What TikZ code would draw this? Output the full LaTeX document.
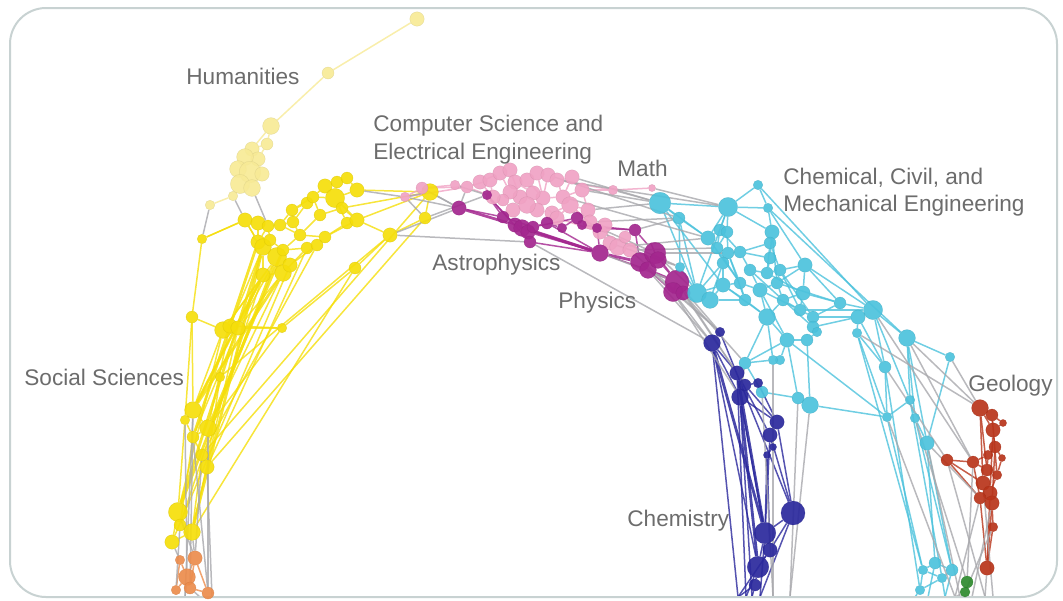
\documentclass[tikz,border=0pt]{standalone}
\usepackage{fontspec}
\setmainfont{Liberation Sans}
\usetikzlibrary{backgrounds}

\definecolor{humyellow}{RGB}{247,234,150}
\definecolor{socyellow}{RGB}{245,222,10}
\definecolor{socorange}{RGB}{236,140,76}
\definecolor{cspink}{RGB}{240,162,196}
\definecolor{astpurple}{RGB}{163,38,142}
\definecolor{engcyan}{RGB}{76,194,220}
\definecolor{chemblue}{RGB}{42,40,156}
\definecolor{geored}{RGB}{184,52,26}
\definecolor{geogreen}{RGB}{46,138,46}
\definecolor{linkgray}{RGB}{168,168,172}
\definecolor{labelgray}{RGB}{108,108,108}
\definecolor{framegray}{RGB}{200,210,210}

\tikzset{
  blob/.style={circle, inner sep=0pt, fill=#1, draw=#1!85!black, line width=0.2pt, fill opacity=0.92, draw opacity=0.5},
  link/.style={draw=#1, line width=0.75pt, opacity=0.8},
  fatlink/.style={draw=#1, line width=1.4pt, opacity=0.85},
  field/.style={font=\fontsize{11.3}{13.5}\selectfont, text=labelgray, inner sep=0pt, anchor=base west},
}

\begin{document}
\begin{tikzpicture}[x=0.5pt, y=-0.5pt]
  \useasboundingbox (0,0) rectangle (1063,600);
  \draw[framegray, line width=1pt, rounded corners=18pt] (10,8) rectangle (1057,597);

  %%%%% NODES %%%%%
  % humanities
  \foreach \n/\x/\y/\r in {1/417/19/6, 2/328/73/5, 3/271/126/7, 4/267/144/5, 5/252/149/6,
      6/258/159/6, 7/245/157/7, 8/238/169/7, 9/250/172/9, 10/262/174/6, 11/240/184/8,
      12/252/188/7, 13/233/196/4, 14/210/205/4}
    \node[blob=humyellow, minimum size=1.2*\r pt] (hu\n) at (\x,\y) {};

  % social sciences
  \foreach \n/\x/\y/\r in {1/202/239/4, 2/245/220/6, 3/258/223/6, 4/268/226/5, 5/280/225/5,
      6/292/210/5, 7/293/222/5, 8/307/203/5, 9/313/197/5, 10/325/186/6, 11/337/182/5,
      12/347/178/5, 13/335/198/8, 14/357/190/6, 15/258/242/6, 16/263/247/7, 17/277/257/8,
      18/283/250/5, 19/263/275/6, 20/283/273/7, 21/307/248/5, 22/317/245/5, 23/325/237/5,
      24/347/223/5, 25/357/220/6, 26/390/235/6, 27/355/268/5, 28/425/218/5, 29/430/192/7,
      30/192/317/5, 31/223/330/7, 32/230/326/6, 33/238/328/6, 34/282/328/4, 35/220/377/4,
      36/193/410/7, 37/185/420/4, 38/208/428/7, 39/193/437/5, 40/202/455/5, 41/207/467/6,
      42/178/512/8, 43/180/525/5, 44/192/532/7, 45/172/542/6, 46/270/240/5, 47/300/235/5,
      48/290/265/6, 49/320/215/5, 50/342/208/5}
    \node[blob=socyellow, minimum size=1.2*\r pt] (ss\n) at (\x,\y) {};
  \foreach \n/\x/\y/\r in {1/195/558/6, 2/180/560/4, 3/187/577/7, 4/190/588/5, 5/208/593/5, 6/176/590/4}
    \node[blob=socorange, minimum size=1.2*\r pt] (or\n) at (\x,\y) {};

  % computer science and electrical engineering
  \foreach \n/\x/\y/\r in {1/405/197/4, 2/422/188/5, 3/467/187/5, 4/480/182/6, 5/490/180/6,
      6/500/173/6, 7/510/170/6, 8/515/182/6, 9/527/180/6, 10/537/173/6, 11/548/175/6,
      12/557/180/6, 13/572/177/6, 14/582/190/6, 15/563/197/6, 16/543/198/6, 17/533/193/6,
      18/520/197/6, 19/510/192/6, 20/503/200/5, 21/493/197/6, 22/513/210/6, 23/537/210/6,
      24/552/213/6, 25/557/218/6, 26/588/210/6, 27/590/222/6, 28/600/232/6, 29/610/243/6,
      30/618/247/7, 31/630/250/6, 32/613/190/4, 33/652/188/3, 34/455/185/4, 35/527/205/7,
      36/570/205/7, 37/605/225/6, 38/625/237/5}
    \node[blob=cspink, minimum size=1.2*\r pt] (cs\n) at (\x,\y) {};

  % astrophysics and physics
  \foreach \n/\x/\y/\r in {1/459/208/6, 2/487/195/4, 3/503/217/5, 4/515/225/6, 5/522/228/7,
      6/528/232/6, 7/533/227/5, 8/530/242/5, 9/547/223/5, 10/577/218/5, 11/582/225/4,
      12/597/228/4, 13/600/253/7, 14/635/230/5, 15/640/262/8, 16/655/253/9, 17/648/270/7,
      18/658/260/7, 19/677/282/10, 20/673/292/8, 21/683/293/6, 22/562/228/4}
    \node[blob=astpurple, minimum size=1.2*\r pt] (ap\n) at (\x,\y) {};

  % chemical, civil and mechanical engineering
  \foreach \n/\x/\y/\r in {1/660/203/9, 2/728/207/8, 3/758/185/4, 4/768/208/4, 5/679/218/5,
      6/720/230/5, 7/727/232/5, 8/708/238/6, 9/772/232/6, 10/770/243/5, 11/717/248/5,
      12/728/253/5, 13/740/252/5, 14/723/263/5, 15/680/267/4, 16/805/265/6, 17/750/270/5,
      18/767/273/5, 19/780/270/5, 20/697/293/8, 21/723/285/6, 22/740/283/5, 23/760/290/6,
      24/777/283/5, 25/803/293/6, 26/783/300/5, 27/767/317/7, 28/800/310/5, 29/813/317/5,
      30/840/303/5, 31/873/310/8, 32/858/317/6, 33/813/327/5, 34/857/333/4, 35/907/338/7,
      36/787/340/6, 37/807/340/5, 38/817/332/4, 39/745/363/5, 40/780/360/4, 41/950/357/4,
      42/885/367/5, 43/810/405/7, 44/798/398/5, 45/762/392/5, 46/773/360/4, 47/887/417/4,
      48/910/400/4, 49/915/418/4, 50/927/443/6, 51/923/570/4, 52/935/563/5, 53/952/570/5,
      54/942/578/4, 55/920/590/4, 56/710/300/7, 57/745/300/5, 58/770/258/5}
    \node[blob=engcyan, minimum size=1.2*\r pt] (ce\n) at (\x,\y) {};

  % chemistry
  \foreach \n/\x/\y/\r in {1/720/332/4, 2/712/343/7, 3/737/373/6, 4/758/383/4, 5/740/397/7,
      6/745/385/5, 7/777/422/6, 8/770/435/6, 9/773/447/3, 10/767/455/3, 11/793/513/10,
      12/765/533/9, 13/770/550/6, 14/758/567/9, 15/755/585/5}
    \node[blob=chemblue, minimum size=1.2*\r pt] (ch\n) at (\x,\y) {};

  % geology
  \foreach \n/\x/\y/\r in {1/980/408/7, 2/992/415/5, 3/1003/423/3, 4/993/430/6, 5/995/447/5,
      6/1002/458/3, 7/973/462/5, 8/947/460/5, 9/987/470/5, 10/983/483/6, 11/990/493/6,
      12/980/498/5, 13/992/503/6, 14/993/527/4, 15/987/568/6, 16/997/475/4, 17/988/455/4}
    \node[blob=geored, minimum size=1.2*\r pt] (ge\n) at (\x,\y) {};
  \node[blob=geogreen, minimum size=6pt] (gr1) at (967,582) {};
  \node[blob=geogreen, minimum size=5pt] (gr2) at (965,592) {};

  % loose ends at the lower edge
  \foreach \n/\x in {1/185, 2/200, 3/212} \coordinate (orb\n) at (\x,597);
  \foreach \n/\x in {1/738, 2/746, 3/752, 4/760, 5/773, 6/790} \coordinate (chb\n) at (\x,597);
  \foreach \n/\x in {1/915, 2/928, 3/945} \coordinate (cyb\n) at (\x,597);
  \foreach \n/\x in {1/955, 2/972, 3/985, 4/960, 5/993} \coordinate (gb\n) at (\x,597);

  %%%%% LINKS %%%%%
  \begin{pgfonlayer}{background}
    \foreach \a/\b in {1/2, 2/3, 3/4, 4/5, 4/6, 5/7, 6/10, 5/6, 7/8, 7/9, 8/9, 9/10, 8/11,
        9/12, 11/12, 10/12, 11/13, 13/14, 9/11, 3/5}
      \draw[link=humyellow] (hu\a) -- (hu\b);

    \foreach \a/\b in {1/2, 2/3, 3/4, 4/5, 5/7, 7/6, 6/8, 8/9, 9/10, 10/11, 11/12, 12/14,
        10/13, 13/14, 9/13, 13/11, 6/9, 7/8, 5/6, 3/15, 15/16, 16/17, 17/18, 18/21, 21/22,
        22/23, 23/24, 24/25, 25/13, 24/13, 23/25, 16/46, 46/18, 4/46, 5/47, 47/23, 7/47,
        18/47, 17/20, 19/20, 19/16, 20/21, 17/48, 48/22, 48/20, 2/15, 15/4, 47/49, 49/50,
        50/13, 49/9, 50/25, 14/29, 25/29, 26/28, 28/29, 26/27, 27/34, 25/26, 50/29,
        17/31, 16/32, 19/33, 20/33, 17/33, 19/31, 32/34, 31/32, 32/33, 33/34,
        19/36, 20/38, 21/41, 22/40, 31/36, 32/38, 33/39, 31/42, 33/44, 19/43, 48/45,
        28/41, 29/40, 26/35, 35/41, 34/38, 27/44, 1/30, 30/36, 30/31, 30/37, 36/37, 36/38,
        37/39, 38/39, 39/40, 40/41, 38/41, 37/42, 39/43, 40/44, 42/43, 43/44, 42/45, 44/45,
        41/44, 1/2, 2/15}
      \draw[link=socyellow] (ss\a) -- (ss\b);
    \foreach \a/\b in {17/42, 16/42, 19/36, 20/36, 15/39, 16/44, 18/38}
      \draw[fatlink=socyellow] (ss\a) -- (ss\b);
    \foreach \a/\b in {1/3, 2/3, 3/4, 4/5, 1/5, 6/3, 2/6, 1/4}
      \draw[link=socorange] (or\a) -- (or\b);

    \foreach \a/\b in {1/2, 2/34, 34/3, 3/4, 4/5, 5/6, 6/7, 7/8, 8/9, 9/10, 10/11, 11/12,
        12/13, 13/14, 14/26, 26/27, 27/28, 28/37, 37/29, 29/38, 38/30, 30/31, 5/21, 21/20,
        20/19, 19/18, 18/17, 17/16, 16/15, 15/14, 8/19, 9/17, 10/16, 11/16, 12/15, 13/15,
        20/22, 22/35, 35/23, 23/24, 24/25, 25/36, 36/26, 36/27, 18/35, 16/23, 15/36, 24/36,
        6/19, 7/18, 4/21, 3/21, 2/3, 1/3, 14/32, 32/33, 12/32, 25/28, 27/37, 28/29, 29/30,
        36/28, 3/5, 4/6, 8/17, 9/16}
      \draw[link=cspink] (cs\a) -- (cs\b);

    \foreach \a/\b in {1/3, 2/3, 2/4, 2/8, 3/4, 4/5, 5/6, 6/7, 7/9, 9/22, 22/10, 10/11,
        11/12, 3/7, 6/8, 5/8, 7/10, 9/13, 6/13, 8/13, 12/13, 12/14, 14/16, 14/15, 13/17,
        15/16, 16/18, 17/18, 18/19, 16/19, 19/20, 20/21, 19/21, 15/20, 11/14}
      \draw[link=astpurple] (ap\a) -- (ap\b);
    \foreach \a/\b in {1/4, 4/13, 5/13, 13/15, 15/17, 17/19}
      \draw[fatlink=astpurple] (ap\a) -- (ap\b);

    \foreach \a/\b in {1/2, 2/3, 3/4, 2/4, 1/5, 5/8, 5/15, 1/8, 2/6, 2/7, 2/9, 4/9, 6/8,
        7/11, 8/11, 6/11, 7/12, 9/10, 10/13, 11/12, 12/13, 13/17, 11/14, 14/21, 12/22, 13/58,
        58/18, 9/58, 10/18, 17/18, 18/19, 19/24, 16/19, 16/25, 16/24, 4/16, 14/20, 15/20,
        20/21, 21/22, 22/23, 23/24, 24/26, 25/26, 25/28, 26/27, 23/27, 22/57, 57/27, 20/56,
        56/21, 56/57, 21/27, 27/36, 27/39, 26/28, 28/29, 29/30, 30/31, 31/32, 32/29, 29/33,
        33/38, 38/37, 37/36, 36/40, 40/46, 46/39, 39/45, 45/44, 44/43, 43/37, 36/44, 33/32,
        32/34, 34/42, 31/35, 35/41, 31/42, 42/47, 34/47, 47/48, 48/49, 49/50, 35/48, 35/49,
        25/30, 16/31, 3/31, 4/35, 2/20, 1/20, 1/21, 5/20, 8/22, 9/24, 19/28, 24/30, 23/28,
        51/52, 52/53, 53/54, 51/54, 54/55, 51/55, 42/55, 47/51, 50/52, 49/53, 48/54, 34/51,
        43/47, 36/47, 50/53, 35/50, 41/50, 27/46, 39/36, 14/56, 17/23, 10/19, 2/8, 6/13,
        11/22, 12/57, 17/26, 18/25, 19/29, 21/57, 23/36, 26/33, 28/31, 31/48, 32/42, 16/30}
      \draw[link=engcyan] (ce\a) -- (ce\b);
    \foreach \a/\b in {55/cyb1, 54/cyb3, 52/cyb2, 53/cyb3}
      \draw[link=engcyan] (ce\a) -- (\b);

    \foreach \a/\b in {1/2, 2/3, 3/6, 6/4, 3/5, 2/5, 5/6, 4/7, 6/7, 5/7, 7/8, 8/9, 9/10,
        7/11, 8/11, 11/12, 11/13, 12/13, 13/14, 12/14, 14/15, 2/14, 5/12, 1/11, 8/12,
        10/12, 10/13, 3/8}
      \draw[link=chemblue] (ch\a) -- (ch\b);
    \foreach \a/\b in {2/12, 3/12, 5/14}
      \draw[fatlink=chemblue] (ch\a) -- (ch\b);
    \foreach \a/\b in {2/chb1, 3/chb2, 5/chb3, 14/chb2, 15/chb3, 12/chb4, 11/chb4, 13/chb1, 15/chb1}
      \draw[link=chemblue] (ch\a) -- (\b);

    \foreach \a/\b in {1/2, 2/3, 1/4, 2/4, 3/4, 4/5, 5/6, 5/17, 17/7, 7/8, 8/10, 8/12, 7/9,
        9/10, 10/11, 11/12, 12/13, 13/14, 14/15, 11/13, 16/9, 16/11, 6/16, 1/10, 1/9, 4/11,
        5/13, 13/15, 2/16, 11/15, 17/9, 7/12, 12/15}
      \draw[link=geored] (ge\a) -- (ge\b);
    \draw[link=geogreen] (gr1) -- (gr2);

    % links between fields
    \foreach \a/\b in {hu14/ss1, hu13/ss2, hu12/ss4, ss14/cs1, ss29/cs2, ss29/cs1, ss28/cs1,
        ss26/ap1, ss26/ap8, ss29/ap1, ss28/ap2, cs2/ap1, cs1/ap1, cs3/ap1, cs34/ap2,
        cs14/ce1, cs13/ce1, cs12/ce2, cs26/ce1, cs27/ce5, cs32/ce1, cs33/ce2, cs31/ce11,
        cs30/ce8, cs28/ce15, cs29/ce15, cs11/ce5, cs15/ce8, ap16/ce12, ap14/ce5, ap13/ap19,
        ap10/ap16, ap8/ch2, ap19/ch1, ap20/ch2, ap21/ch3, ap17/ch2, ap15/ch1, ap21/ce39,
        ap16/ce20, ap21/ce20, ce35/ge1, ce41/ge1, ce31/ge7, ce42/ge8, ce50/ge12, ce34/ge1,
        ce39/ch5, ce46/chb5, ce44/chb6, ce45/chb5, ce43/chb6, ge12/gb1, ge13/gb2, ge8/gb3,
        ge7/gr1, ge14/gr2, ce50/gb4, ce49/gr1, ge10/gb5, gr2/gb1, ge15/gb3,
        ss36/or4, ss37/or3, ss39/or5, ss38/or5, ss40/or1, ss43/or6, ss41/orb3, ss36/orb1,
        or4/orb2, or3/orb1, or5/orb3, ss42/or1, ss44/or1, ss45/or2, ce47/gb1, ce35/ge7,
        ap20/ch5, ap19/ch3, cs31/ch1}
      \draw[link=linkgray] (\a) -- (\b);
  \end{pgfonlayer}

  %%%%% LABELS %%%%%
  \node[field] (humlabel) at (186,84) {Humanities};
  \node[field] (cslabel) at (373,131) {Computer Science and};
  \node[field] (eelabel) at (373,159) {Electrical Engineering};
  \node[field] (mathlabel) at (617,176) {Math};
  \node[field] (cclabel) at (783,184) {Chemical, Civil, and};
  \node[field] (melabel) at (783,211) {Mechanical Engineering};
  \node[field] (astlabel) at (432,270) {Astrophysics};
  \node[field] (phylabel) at (558,308) {Physics};
  \node[field] (soclabel) at (24,385) {Social Sciences};
  \node[field] (geolabel) at (968,391) {Geology};
  \node[field] (chemlabel) at (627,526) {Chemistry};
\end{tikzpicture}
\end{document}
